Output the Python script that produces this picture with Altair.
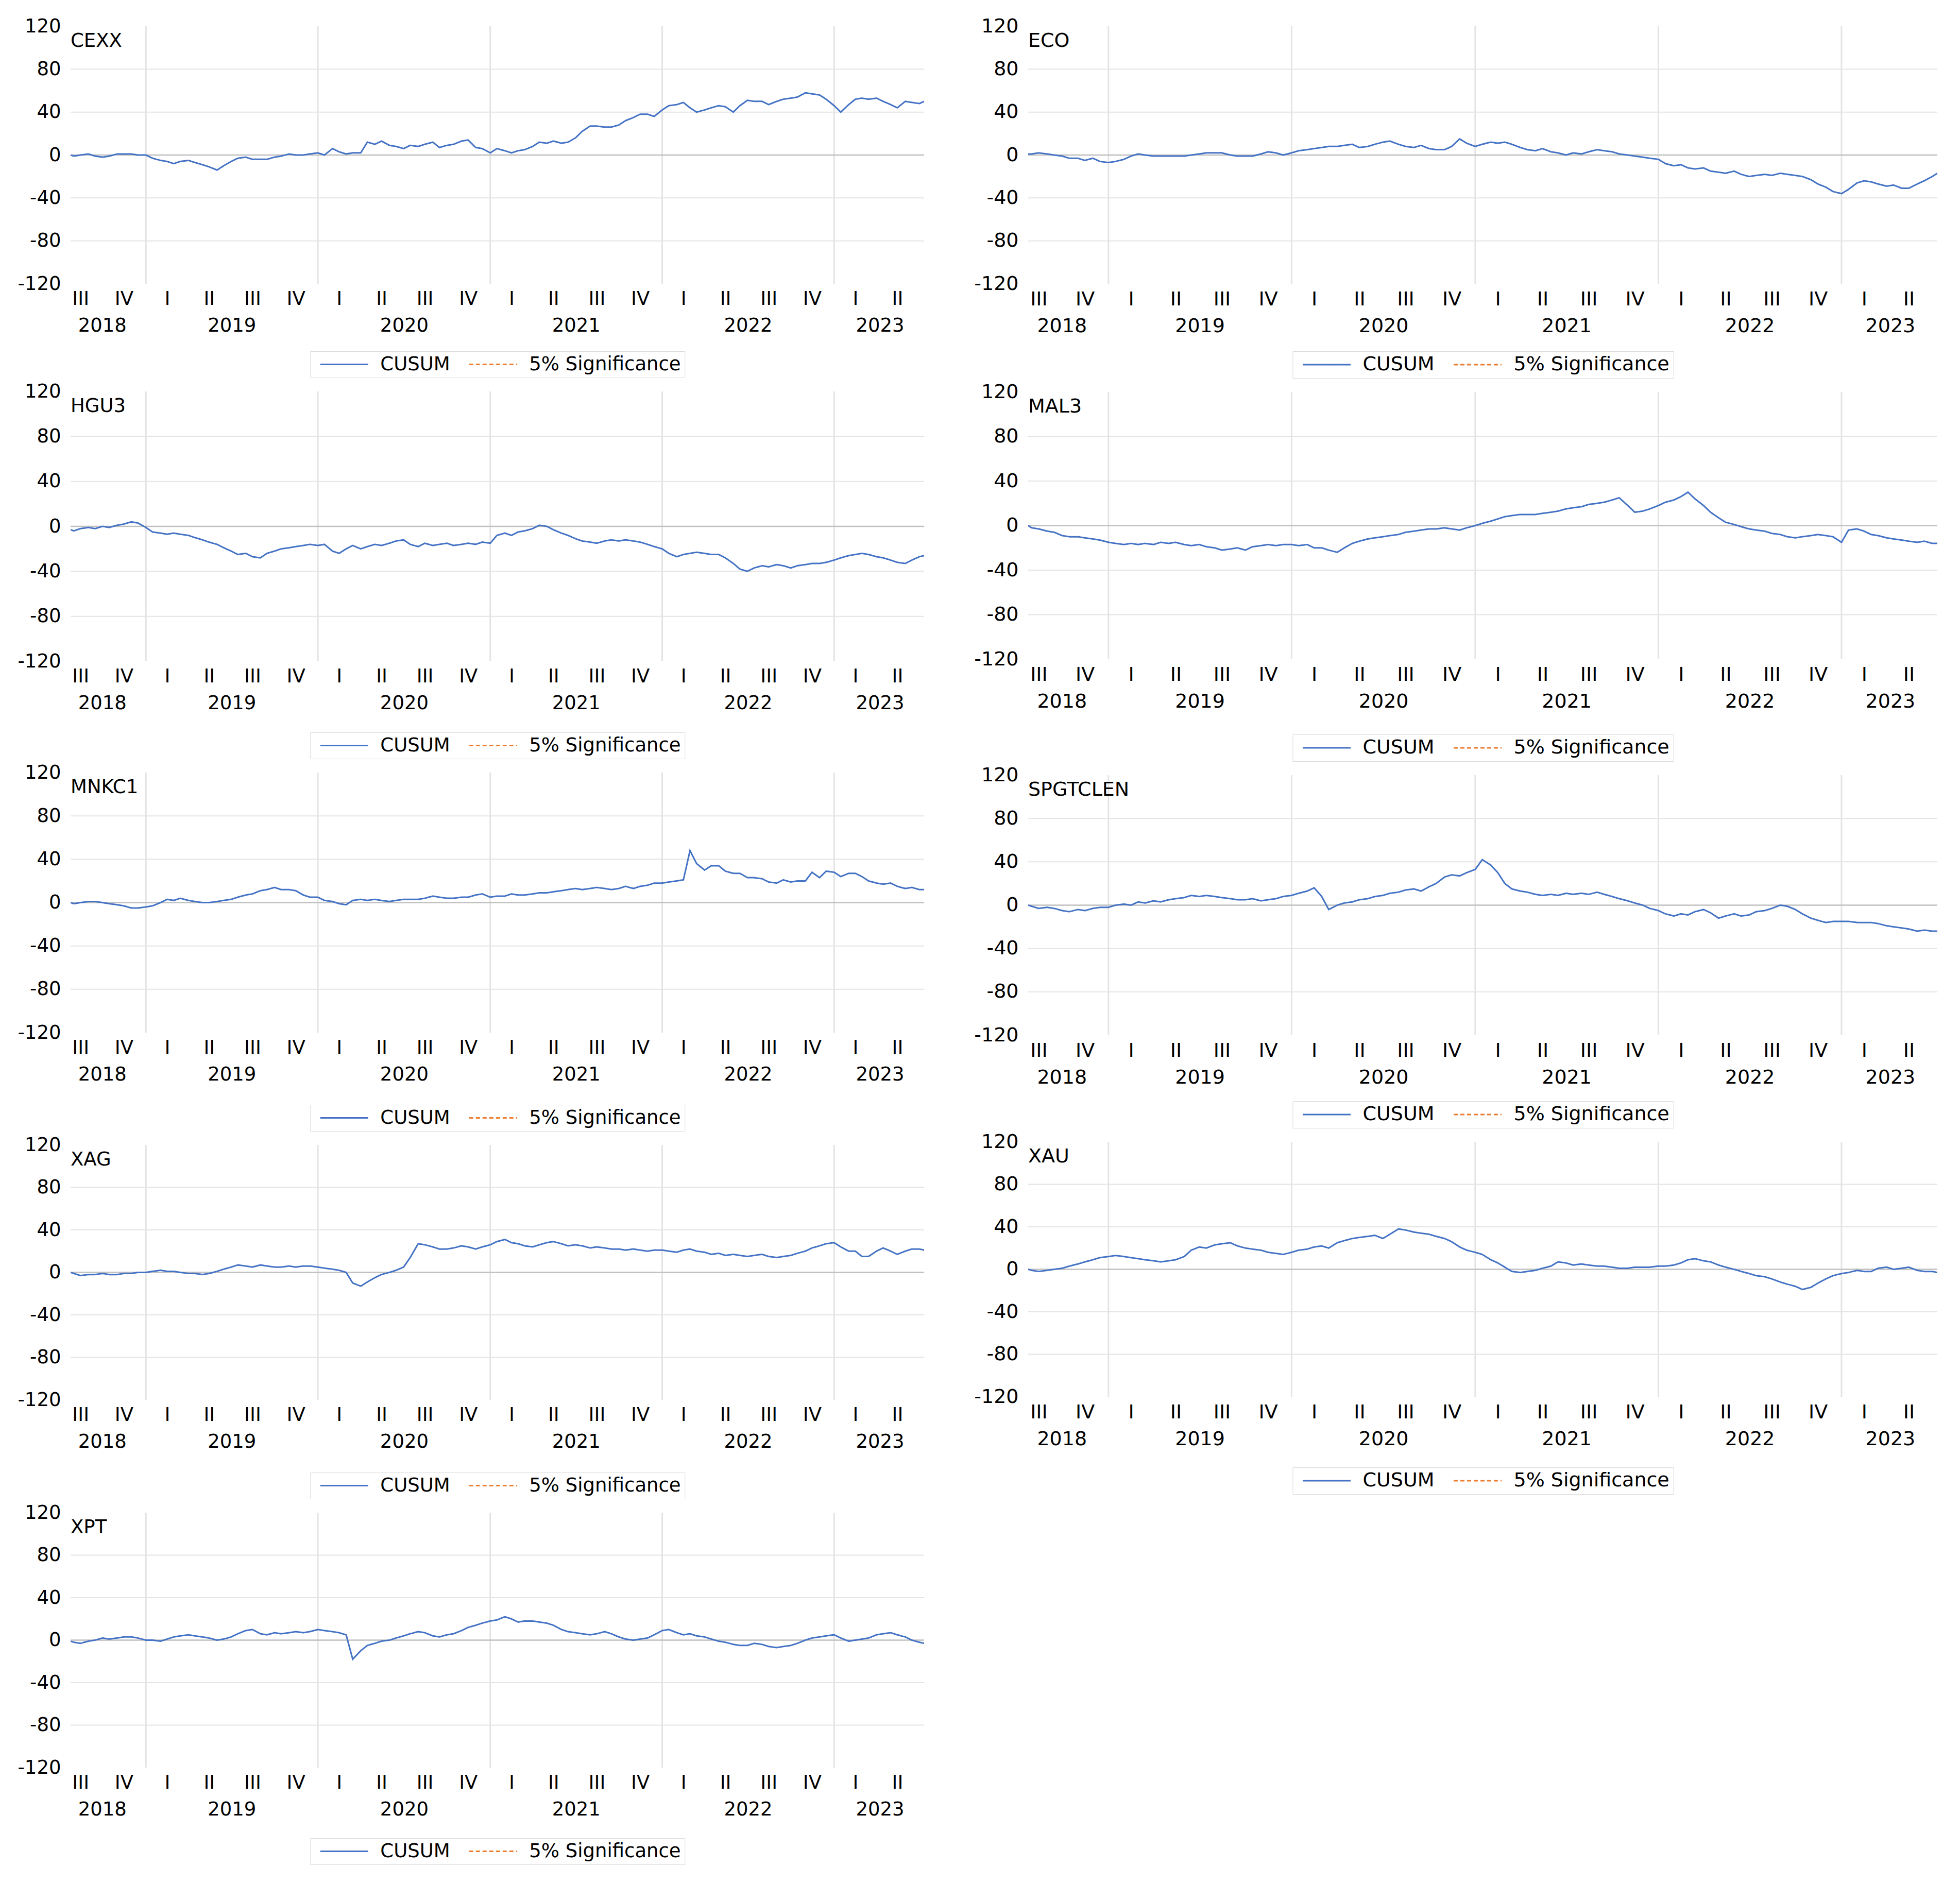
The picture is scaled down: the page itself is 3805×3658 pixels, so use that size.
import altair as alt
import pandas as pd

FONT = "DejaVu Sans"

START = "2018-07-25"
END = "2023-07-11"
# sampling dates of the read-off values (1st and 15th of each month)
sample_dates = ([START]
                + [d.strftime("%Y-%m-%d") for d in pd.date_range("2018-08-01", "2023-07-01", freq="SMS")]
                + [END])

quarter_label_dates = ["2018-08-15", "2018-11-15",
                       "2019-02-15", "2019-05-15", "2019-08-15", "2019-11-15",
                       "2020-02-15", "2020-05-15", "2020-08-15", "2020-11-15",
                       "2021-02-15", "2021-05-15", "2021-08-15", "2021-11-15",
                       "2022-02-15", "2022-05-15", "2022-08-15", "2022-11-15",
                       "2023-02-15", "2023-05-15"]
year_label_dates = ["2018-09-30", "2019-07-02", "2020-07-02", "2021-07-02", "2022-07-02", "2023-04-08"]
year_start_dates = ["2019-01-01", "2020-01-01", "2021-01-01", "2022-01-01", "2023-01-01"]
y_tick_values = [-120, -80, -40, 0, 40, 80, 120]
grid_values = [-80, -40, 40, 80]

series_names = ["CUSUM", "5% Significance"]
series_colors = ["#4472C4", "#ED7D31"]
series_dashes = [[1, 0], [8, 5]]

CEXX = ([0, -1, 0, 1, -1, -2, -1, 1, 1, 1, 0]
        + [0, -3, -5, -6, -8, -6, -5, -7, -9, -11, -14, -10, -6, -3, -2, -4, -4, -4, -2, -1, 1, 0, 0, 1]
        + [2, 0, 6, 3, 1, 2, 2, 12, 10, 13, 9, 8, 6, 9, 8, 10, 12, 7, 9, 10, 13, 14, 7, 6]
        + [2, 6, 4, 2, 4, 5, 8, 12, 11, 13, 11, 12, 16, 22, 27, 27, 26, 26, 28, 32, 35, 38, 38, 36]
        + [42, 46, 47, 49, 44, 40, 42, 44, 46, 45, 40, 46, 51, 50, 50, 47, 50, 52, 53, 54, 58, 57, 56, 52]
        + [46, 40, 47, 52, 53, 52, 53, 50, 47, 44, 50, 49, 48, 50])

ECO = ([1, 1, 2, 1, 0, -1, -3, -3, -5, -3, -6]
       + [-7, -6, -4, -1, 1, 0, -1, -1, -1, -1, -1, 0, 1, 2, 2, 2, 0, -1, -1, -1, 1, 3, 2, 0]
       + [2, 4, 5, 6, 7, 8, 8, 9, 10, 7, 8, 10, 12, 13, 10, 8, 7, 9, 6, 5, 5, 8, 15, 11]
       + [8, 10, 12, 11, 12, 10, 7, 5, 4, 6, 3, 2, 0, 2, 1, 3, 5, 4, 3, 1, 0, -1, -2, -3]
       + [-4, -8, -10, -9, -12, -13, -12, -15, -16, -17, -15, -18, -20, -19, -18, -19, -17, -18, -19, -20, -23, -27, -30, -34]
       + [-36, -32, -26, -24, -25, -27, -29, -28, -31, -31, -27, -24, -20, -17])

HGU3 = ([-3, -4, -2, -1, -2, 0, -1, 1, 2, 4, 3]
        + [-1, -5, -6, -7, -6, -7, -8, -10, -12, -14, -16, -19, -22, -25, -24, -27, -28, -24, -22, -20, -19, -18, -17, -16]
        + [-17, -16, -22, -24, -20, -17, -20, -18, -16, -17, -15, -13, -12, -16, -18, -15, -17, -16, -15, -17, -16, -15, -16, -14]
        + [-15, -8, -6, -8, -5, -4, -2, 1, 0, -3, -6, -8, -11, -13, -14, -15, -13, -12, -13, -12, -13, -14, -16, -18]
        + [-20, -24, -27, -25, -24, -23, -24, -25, -25, -28, -33, -38, -40, -37, -35, -36, -34, -35, -37, -35, -34, -33, -33, -32]
        + [-30, -28, -26, -25, -24, -25, -27, -28, -30, -32, -33, -30, -27, -26])

MAL3 = ([0, -2, -3, -5, -6, -9, -10, -10, -11, -12, -13]
        + [-15, -16, -17, -16, -17, -16, -17, -15, -16, -15, -17, -18, -17, -19, -20, -22, -21, -20, -22, -19, -18, -17, -18, -17]
        + [-17, -18, -17, -20, -20, -22, -24, -20, -16, -14, -12, -11, -10, -9, -8, -6, -5, -4, -3, -3, -2, -3, -4, -2]
        + [0, 2, 4, 6, 8, 9, 10, 10, 10, 11, 12, 13, 15, 16, 17, 19, 20, 21, 23, 25, 18, 12, 13, 15]
        + [18, 21, 23, 26, 30, 24, 18, 12, 7, 3, 1, -1, -3, -4, -5, -7, -8, -10, -11, -10, -9, -8, -9, -10]
        + [-15, -4, -3, -5, -8, -9, -11, -12, -13, -14, -15, -14, -16, -16])

MNKC1 = ([0, -1, 0, 1, 1, 0, -1, -2, -3, -5, -5]
         + [-4, -3, 0, 3, 2, 4, 2, 1, 0, 0, 1, 2, 3, 5, 7, 8, 11, 12, 14, 12, 12, 11, 7, 5]
         + [5, 2, 1, -1, -2, 2, 3, 2, 3, 2, 1, 2, 3, 3, 3, 4, 6, 5, 4, 4, 5, 5, 7, 8]
         + [5, 6, 6, 8, 7, 7, 8, 9, 9, 10, 11, 12, 13, 12, 13, 14, 13, 12, 13, 15, 13, 15, 16, 18]
         + [18, 19, 20, 21, 48, 36, 30, 34, 34, 29, 27, 27, 23, 23, 22, 19, 18, 21, 19, 20, 20, 28, 23, 29]
         + [28, 24, 27, 27, 24, 20, 18, 17, 18, 15, 13, 14, 12, 12])

SPGTCLEN = ([0, -1, -3, -2, -3, -5, -6, -4, -5, -3, -2]
            + [-2, 0, 1, 0, 3, 2, 4, 3, 5, 6, 7, 9, 8, 9, 8, 7, 6, 5, 5, 6, 4, 5, 6, 8]
            + [9, 11, 13, 16, 8, -4, 0, 2, 3, 5, 6, 8, 9, 11, 12, 14, 15, 13, 17, 20, 26, 28, 27, 30]
            + [33, 42, 37, 30, 20, 15, 13, 12, 10, 9, 10, 9, 11, 10, 11, 10, 12, 10, 8, 6, 4, 2, 0, -3]
            + [-5, -8, -10, -8, -9, -6, -4, -7, -12, -10, -8, -10, -9, -6, -5, -3, 0, -1, -4, -8, -12, -14, -16, -15]
            + [-15, -15, -16, -16, -16, -17, -19, -20, -21, -22, -24, -23, -24, -24])

XAG = ([0, -1, -3, -2, -2, -1, -2, -2, -1, -1, 0]
       + [0, 1, 2, 1, 1, 0, -1, -1, -2, -1, 1, 3, 5, 7, 6, 5, 7, 6, 5, 5, 6, 5, 6, 6]
       + [5, 4, 3, 2, 0, -10, -13, -9, -5, -2, 0, 2, 5, 14, 27, 26, 24, 22, 22, 23, 25, 24, 22, 24]
       + [26, 29, 31, 28, 27, 25, 24, 26, 28, 29, 27, 25, 26, 25, 23, 24, 23, 22, 22, 21, 22, 21, 20, 21]
       + [21, 20, 19, 21, 22, 20, 19, 17, 18, 16, 17, 16, 15, 16, 17, 15, 14, 15, 16, 18, 20, 23, 25, 27]
       + [28, 24, 20, 20, 15, 15, 20, 23, 20, 17, 20, 22, 22, 21])

XAU = ([0, -1, -2, -1, 0, 1, 3, 5, 7, 9, 11]
       + [12, 13, 12, 11, 10, 9, 8, 7, 8, 9, 12, 18, 21, 20, 23, 24, 25, 22, 20, 19, 18, 16, 15, 14]
       + [16, 18, 19, 21, 22, 20, 25, 27, 29, 30, 31, 32, 29, 33, 38, 37, 35, 34, 33, 31, 29, 26, 21, 18]
       + [16, 14, 9, 6, 2, -2, -3, -2, -1, 1, 3, 7, 6, 4, 5, 4, 3, 3, 2, 1, 1, 2, 2, 2]
       + [3, 3, 4, 6, 9, 10, 8, 7, 4, 2, 0, -2, -4, -6, -7, -9, -12, -14, -16, -19, -17, -13, -9, -6]
       + [-4, -3, -1, -2, -2, 1, 2, 0, 1, 2, -1, -2, -2, -3])

XPT = ([-1, -2, -3, -1, 0, 2, 1, 2, 3, 3, 2]
       + [0, 0, -1, 1, 3, 4, 5, 4, 3, 2, 0, 1, 3, 6, 9, 10, 6, 5, 7, 6, 7, 8, 7, 8]
       + [10, 9, 8, 7, 5, -18, -10, -5, -3, -1, 0, 2, 4, 6, 8, 7, 4, 3, 5, 6, 9, 12, 14, 16]
       + [18, 19, 22, 20, 17, 18, 18, 17, 16, 14, 10, 8, 7, 6, 5, 6, 8, 6, 3, 1, 0, 1, 2, 5]
       + [9, 10, 7, 5, 6, 4, 3, 1, -1, -2, -4, -5, -5, -3, -4, -6, -7, -6, -5, -3, 0, 2, 3, 4]
       + [5, 2, -1, 0, 1, 2, 5, 6, 7, 5, 3, 0, -2, -3])

# (name, values, plot height, gap from plot bottom to legend box)
left_panels = [("CEXX", CEXX, 500, 131), ("HGU3", HGU3, 524, 138), ("MNKC1", MNKC1, 505, 140),
               ("XAG", XAG, 495, 141), ("XPT", XPT, 495, 137)]
right_panels = [("ECO", ECO, 500, 131), ("MAL3", MAL3, 519, 146), ("SPGTCLEN", SPGTCLEN, 505, 128),
                ("XAU", XAU, 495, 137)]
LEFT_W, LEFT_FS = 1657, 37
RIGHT_W, RIGHT_FS = 1765, 38


def to_dt(s):
    y, m, d = (int(p) for p in s.split("-"))
    return alt.DateTime(year=y, month=m, date=d)


def panel(name, values, width, height, gap, fs):
    if len(values) != len(sample_dates):
        raise ValueError(f"{name}: {len(values)} values for {len(sample_dates)} dates")
    df = pd.DataFrame({"date": sample_dates, "value": values, "series": ["CUSUM"] * len(values)})
    xs = alt.Scale(domain=[to_dt(START), to_dt(END)], nice=False)
    ys = alt.Scale(domain=[-120, 120], nice=False, zero=False)
    y_axis = alt.Axis(values=y_tick_values, labelExpr="datum.value + ''", grid=False, ticks=False,
                      tickSize=0, domain=False, labelPadding=19, labelFontSize=fs, labelFont=FONT,
                      labelColor="black", title=None, labelFlush=False)
    quarter_axis = alt.Axis(values=[to_dt(d) for d in quarter_label_dates],
                            labelExpr="['I','II','III','IV'][floor(month(datum.value)/3)]",
                            orient="bottom", grid=False, ticks=False, tickSize=0, domain=False,
                            labelPadding=11, labelFontSize=fs, labelFont=FONT, labelColor="black",
                            labelFlush=False, labelOverlap=False, title=None)
    year_axis = alt.Axis(values=[to_dt(d) for d in year_label_dates],
                         labelExpr="'' + year(datum.value)",
                         orient="bottom", offset=52, grid=False, ticks=False, tickSize=0, domain=False,
                         labelPadding=11, labelFontSize=fs, labelFont=FONT, labelColor="black",
                         labelFlush=False, labelOverlap=False, title=None)
    pad, sym_off, lab_off, col_pad = 7, 11, 22, 24
    legend_w = 2 * pad + 2 * (96 + lab_off) + col_pad + 3.66 * fs + 8.0 * fs + 18
    legend = alt.Legend(orient="none", legendX=width / 2 - 1.5 - legend_w / 2, legendY=height + gap,
                        direction="horizontal", columns=2, symbolType="stroke", symbolSize=8649,
                        symbolStrokeWidth=3, symbolOffset=sym_off, clipHeight=fs, labelOffset=lab_off,
                        columnPadding=col_pad, padding=pad, strokeColor="#dcdcdc", fillColor="white",
                        labelFontSize=fs, labelFont=FONT, labelColor="black", labelLimit=1000,
                        title=None)

    hgrid = alt.Chart(pd.DataFrame({"v": grid_values})).mark_rule(
        color="#e4e4e4", strokeWidth=2).encode(y=alt.Y("v:Q", scale=ys, axis=y_axis))
    zero = alt.Chart(pd.DataFrame({"v": [0]})).mark_rule(
        color="#bfbfbf", strokeWidth=2.5).encode(y=alt.Y("v:Q", scale=ys, axis=y_axis))
    vgrid = alt.Chart(pd.DataFrame({"d": year_start_dates})).mark_rule(
        color="#e4e4e4", strokeWidth=3).encode(x=alt.X("d:T", scale=xs, axis=year_axis))
    line = alt.Chart(df).mark_line(strokeWidth=3, clip=True).encode(
        x=alt.X("date:T", scale=xs, axis=quarter_axis),
        y=alt.Y("value:Q", scale=ys, axis=y_axis),
        color=alt.Color("series:N", scale=alt.Scale(domain=series_names, range=series_colors), legend=legend),
        strokeDash=alt.StrokeDash("series:N", scale=alt.Scale(domain=series_names, range=series_dashes),
                                  legend=legend),
    )
    label = alt.Chart(pd.DataFrame({"name": [name]})).mark_text(
        align="left", baseline="middle", fontSize=fs, font=FONT, color="black").encode(
        x=alt.value(0), y=alt.value(29), text="name:N")
    return (alt.layer(hgrid, vgrid, zero, line, label)
            .resolve_scale(x="independent")
            .properties(width=width, height=height))


def column(panels, width, fs):
    return (alt.vconcat(*[panel(n, v, width, h, g, fs) for n, v, h, g in panels], spacing=6)
            .resolve_scale(color="independent", strokeDash="independent")
            .resolve_legend(color="independent", strokeDash="independent"))


chart = (alt.hconcat(column(left_panels, LEFT_W, LEFT_FS), column(right_panels, RIGHT_W, RIGHT_FS),
                     spacing=94)
         .resolve_scale(color="independent", strokeDash="independent")
         .resolve_legend(color="independent", strokeDash="independent")
         .properties(padding={"left": 25, "top": 23, "right": 10, "bottom": 10}, background="white")
         .configure_view(stroke="transparent"))

chart.save("out.html", embed_options={"renderer": "svg", "actions": False})
